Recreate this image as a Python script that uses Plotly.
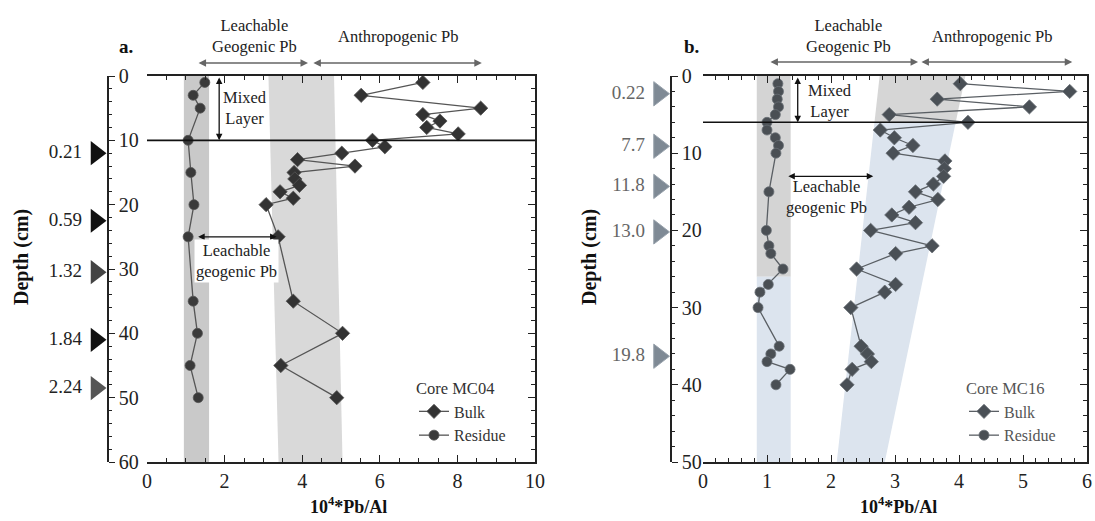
import plotly.graph_objects as go

W, H = 1095, 521
FONT = "Liberation Serif"

# ---------------- data: panel a (Core MC04) ----------------
a_res_depth = [1, 3, 5, 10, 15, 20, 25, 35, 40, 45, 50]
a_res_val = [1.49, 1.19, 1.37, 1.06, 1.13, 1.21, 1.06, 1.19, 1.30, 1.11, 1.32]
a_bulk_depth = [1, 3, 5, 6, 7, 8, 9, 10, 11, 12, 13, 14, 15, 16, 17, 18, 19, 20, 25, 35, 40, 45, 50]
a_bulk_val = [7.11, 5.52, 8.60, 7.11, 7.55, 7.21, 8.02, 5.81, 6.13, 5.02, 3.88, 5.36, 3.79,
              3.81, 3.93, 3.43, 3.77, 3.07, 3.38, 3.77, 5.04, 3.45, 4.89]
a_age_depth = [12, 22.5, 30.5, 41, 48.5]
a_age_label = ["0.21", "0.59", "1.32", "1.84", "2.24"]
a_age_color = ["#111111", "#111111", "#444444", "#111111", "#555555"]
a_band1 = [0.95, 1.60]                 # residue range
a_band2_top = [3.13, 4.82]             # bulk background at 0 cm
a_band2_bot = [3.39, 5.04]             # bulk background at 60 cm
a_mixed = 10

# ---------------- data: panel b (Core MC16) ----------------
b_res_depth = [1, 2, 3, 4, 5, 6, 7, 8, 9, 10, 15, 20, 22, 23, 25, 27, 28, 30, 35, 36, 37, 38, 40]
b_res_val = [1.17, 1.18, 1.16, 1.18, 1.13, 1.00, 1.00, 1.13, 1.18, 1.14, 1.03, 0.99, 1.03,
             1.06, 1.25, 1.02, 0.89, 0.86, 1.19, 1.06, 1.00, 1.36, 1.14]
b_bulk_depth = [1, 2, 3, 4, 5, 6, 7, 8, 9, 10, 11, 12, 13, 14, 15, 16, 17, 18, 19, 20,
                22, 23, 25, 27, 28, 30, 35, 36, 37, 38, 40]
b_bulk_val = [4.02, 5.73, 3.66, 5.10, 2.91, 4.14, 2.77, 2.99, 3.28, 2.97, 3.78, 3.77, 3.76,
              3.60, 3.32, 3.67, 3.22, 2.95, 3.32, 2.62, 3.58, 3.01, 2.40, 3.01, 2.84, 2.31,
              2.47, 2.57, 2.63, 2.33, 2.25]
b_age_depth = [2.3, 9.1, 14.3, 20.2, 36.3]
b_age_label = ["0.22", "7.7", "11.8", "13.0", "19.8"]
b_band1 = [0.84, 1.37]
b_band2_top = [2.76, 4.10]
b_band2_bot = [2.09, 2.84]
b_mixed = 6

# ---------------- layout geometry (pixels) ----------------
A_X0, A_X1 = 147, 535
B_X0, B_X1 = 703, 1087
Y_TOP, Y_BOT = 76, 462
A_LAX, B_LAX = 108, 671


def px(v):
    return v / W


def py(v):
    return 1 - v / H


ydom = [py(Y_BOT), py(Y_TOP)]

fig = go.Figure()

# panel a traces
fig.add_trace(go.Scatter(x=a_bulk_val, y=a_bulk_depth, mode="lines+markers", name="Bulk",
                         line=dict(color="#555555", width=1.3),
                         marker=dict(symbol="diamond", size=11, color="#333333",
                                     line=dict(color="#555555", width=0.8)),
                         xaxis="x", yaxis="y", legend="legend"))
fig.add_trace(go.Scatter(x=a_res_val, y=a_res_depth, mode="lines+markers", name="Residue",
                         line=dict(color="#555555", width=1.3),
                         marker=dict(symbol="circle", size=10, color="#3a3a3a",
                                     line=dict(color="#555555", width=0.8)),
                         xaxis="x", yaxis="y", legend="legend"))
# panel b traces
fig.add_trace(go.Scatter(x=b_bulk_val, y=b_bulk_depth, mode="lines+markers", name="Bulk",
                         line=dict(color="#5a5f64", width=1.3),
                         marker=dict(symbol="diamond", size=11, color="#4a5056",
                                     line=dict(color="#6a7076", width=0.8)),
                         xaxis="x2", yaxis="y2", legend="legend2"))
fig.add_trace(go.Scatter(x=b_res_val, y=b_res_depth, mode="lines+markers", name="Residue",
                         line=dict(color="#5a5f64", width=1.3),
                         marker=dict(symbol="circle", size=10, color="#4a4f54",
                                     line=dict(color="#6a7076", width=0.8)),
                         xaxis="x2", yaxis="y2", legend="legend2"))

# age markers (triangles) beside the detached depth axes
fig.add_trace(go.Scatter(x=[96] * len(a_age_depth), y=a_age_depth, mode="markers+text",
                         text=a_age_label, textposition="middle left",
                         textfont=dict(family=FONT, size=19, color="#222222"),
                         marker=dict(symbol="triangle-right", size=21, color=a_age_color),
                         xaxis="x5", yaxis="y3", showlegend=False, cliponaxis=False))
fig.add_trace(go.Scatter(x=[659] * len(b_age_depth), y=b_age_depth, mode="markers+text",
                         text=b_age_label, textposition="middle left",
                         textfont=dict(family=FONT, size=19, color="#666666"),
                         marker=dict(symbol="triangle-right", size=21, color="#7f8a95",
                                     line=dict(color="#98a2ac", width=1)),
                         xaxis="x6", yaxis="y4", showlegend=False, cliponaxis=False))

shapes = []
# panel a bands
shapes.append(dict(type="rect", xref="x", yref="y", x0=a_band1[0], x1=a_band1[1], y0=0, y1=60,
                   fillcolor="#c9c9c9", line=dict(width=0), layer="below"))
shapes.append(dict(type="path", xref="x", yref="y",
                   path=f"M{a_band2_top[0]},0 L{a_band2_top[1]},0 L{a_band2_bot[1]},60 L{a_band2_bot[0]},60 Z",
                   fillcolor="#d9d9d9", line=dict(width=0), layer="below"))
shapes.append(dict(type="line", xref="x", yref="y", x0=0, x1=10, y0=a_mixed, y1=a_mixed,
                   line=dict(color="#111111", width=1.6)))


# panel b bands
def edge(top, bot, d):
    return top + (bot - top) * d / 50.0


lb6, rb6 = edge(b_band2_top[0], b_band2_bot[0], b_mixed), edge(b_band2_top[1], b_band2_bot[1], b_mixed)
BLUE = "#dce4ee"
shapes.append(dict(type="rect", xref="x2", yref="y2", x0=b_band1[0], x1=b_band1[1], y0=0, y1=26,
                   fillcolor="#d4d4d4", line=dict(width=0), layer="below"))
shapes.append(dict(type="rect", xref="x2", yref="y2", x0=b_band1[0], x1=b_band1[1], y0=26, y1=50,
                   fillcolor=BLUE, line=dict(width=0), layer="below"))
shapes.append(dict(type="path", xref="x2", yref="y2",
                   path=f"M{b_band2_top[0]},0 L{b_band2_top[1]},0 L{rb6},{b_mixed} L{lb6},{b_mixed} Z",
                   fillcolor="#d6d6d6", line=dict(width=0), layer="below"))
shapes.append(dict(type="path", xref="x2", yref="y2",
                   path=f"M{lb6},{b_mixed} L{rb6},{b_mixed} L{b_band2_bot[1]},50 L{b_band2_bot[0]},50 Z",
                   fillcolor=BLUE, line=dict(width=0), layer="below"))
shapes.append(dict(type="line", xref="x2", yref="y2", x0=0, x1=6, y0=b_mixed, y1=b_mixed,
                   line=dict(color="#111111", width=1.6)))

tf = dict(family=FONT, size=16.5, color="#222222")
ann = []


def txt(x, y, s, xref, yref, font=tf, **kw):
    ann.append(dict(x=x, y=y, text=s, xref=xref, yref=yref, showarrow=False, font=font,
                    xanchor="center", yanchor="middle", **kw))


def harrow(x0, x1, y, xref, color="#666666"):
    ann.append(dict(x=x1, y=y, ax=x0, ay=0, xref=xref, yref="paper", axref=xref, ayref="pixel",
                    text="", showarrow=True, arrowhead=2, arrowside="end+start", arrowsize=1,
                    arrowwidth=1.5, arrowcolor=color, standoff=0, startstandoff=0))


def darrow(x0, y0, x1, y1, xref, yref, color="#111111"):
    ann.append(dict(x=x1, y=y1, ax=x0, ay=y0, xref=xref, yref=yref, axref=xref, ayref=yref,
                    text="", showarrow=True, arrowhead=2, arrowside="end+start", arrowsize=1,
                    arrowwidth=1.3, arrowcolor=color, standoff=0, startstandoff=0))


bold = dict(family=FONT, size=19, color="#111111")
dep = dict(family=FONT, size=20, color="#111111")
xt = dict(family=FONT, size=18, color="#111111")
XTITLE = "<b>10<sup>4</sup>*Pb/Al</b>"
# ---- panel a annotations
txt(px(126), py(46), "<b>a.</b>", "paper", "paper", bold)
txt(2.76, py(36), "Leachable<br>Geogenic Pb", "x", "paper")
txt(6.47, py(36), "Anthropogenic Pb", "x", "paper")
harrow(1.29, 4.15, py(63), "x")
harrow(4.25, 8.63, py(63), "x")
darrow(1.86, 0, 1.86, a_mixed, "x", "y")
txt(2.53, 5.05, "Mixed<br>Layer", "x", "y")
darrow(1.28, 25, 3.34, 25, "x", "y")
txt(2.3, 28.7, "Leachable<br>geogenic Pb", "x", "y", bgcolor="white")
txt(px(22), py(257), "<b>Depth (cm)</b>", "paper", "paper", dep, textangle=-90)
txt(5.2, py(505), XTITLE, "x", "paper", xt)
# ---- panel b annotations
txt(px(691), py(46), "<b>b.</b>", "paper", "paper", bold)
txt(2.27, py(36), "Leachable<br>Geogenic Pb", "x2", "paper")
txt(4.53, py(36), "Anthropogenic Pb", "x2", "paper")
harrow(1.03, 3.36, py(62), "x2")
harrow(3.39, 5.77, py(62), "x2")
darrow(1.48, 0, 1.48, b_mixed, "x2", "y2")
txt(1.98, 3.3, "Mixed<br>Layer", "x2", "y2")
darrow(1.31, 13, 2.66, 13, "x2", "y2")
txt(1.93, 15.7, "Leachable<br>geogenic Pb", "x2", "y2")
txt(px(590), py(257), "<b>Depth (cm)</b>", "paper", "paper", dep, textangle=-90)
txt(3.05, py(505), XTITLE, "x2", "paper", xt)

axcol = "#222222"
tickfont = dict(family=FONT, size=20, color="#222222")


def xax(dom, rng, dtick, mdtick, anchor):
    return dict(domain=dom, range=rng, anchor=anchor, showline=True, linecolor=axcol, linewidth=1.5,
                ticks="inside", ticklen=7, tickwidth=1.3, tickcolor=axcol, dtick=dtick, tick0=0,
                minor=dict(dtick=mdtick, ticks="inside", ticklen=4, tickwidth=1, tickcolor=axcol),
                mirror="ticks", showgrid=False, zeroline=False, tickfont=tickfont, automargin=False)


def yframe(rng, anchor):
    return dict(domain=ydom, range=rng, anchor=anchor, side="right", showline=True, linecolor=axcol,
                linewidth=1.5, ticks="inside", ticklen=7, tickwidth=1.3, tickcolor=axcol, dtick=10, tick0=0,
                minor=dict(dtick=2, ticks="inside", ticklen=4, tickwidth=1, tickcolor=axcol),
                showticklabels=False, showgrid=False, zeroline=False, automargin=False)


def yfree(rng, pos):
    # detached depth axis: line with ticks and labels to its right
    return dict(domain=ydom, range=rng, anchor="free", position=pos, side="right", showline=True,
                linecolor=axcol, linewidth=1.5, ticks="outside", ticklen=6, tickwidth=1.3, tickcolor=axcol,
                dtick=10, tick0=0, ticklabelposition="outside",
                minor=dict(dtick=2, ticks="outside", ticklen=3, tickwidth=1, tickcolor=axcol),
                showgrid=False, zeroline=False, tickfont=tickfont, automargin=False)


fig.update_layout(
    width=W, height=H, autosize=False, margin=dict(l=0, r=0, t=0, b=0, autoexpand=False),
    paper_bgcolor="white", plot_bgcolor="rgba(0,0,0,0)",
    xaxis=xax([px(A_X0), px(A_X1)], [0, 10], 2, 0.5, "y"),
    yaxis=yframe([60, 0], "x"),
    xaxis2=xax([px(B_X0), px(B_X1)], [0, 6], 1, 0.2, "y2"),
    yaxis2=yframe([50, 0], "x2"),
    yaxis3=yfree([60, 0], px(A_LAX)),
    yaxis4=yfree([50, 0], px(B_LAX)),
    xaxis5=dict(domain=[0, px(A_X0)], range=[0, A_X0], anchor="y3", visible=False, automargin=False),
    xaxis6=dict(domain=[px(547), px(B_X0)], range=[547, B_X0], anchor="y4", visible=False, automargin=False),
    shapes=shapes, annotations=ann,
    legend=dict(x=px(414), y=py(373), xanchor="left", yanchor="top", bgcolor="rgba(0,0,0,0)",
                title=dict(text="Core MC04", font=dict(family=FONT, size=16.5, color="#333333")),
                font=dict(family=FONT, size=16, color="#333333"), itemwidth=30, tracegroupgap=0),
    legend2=dict(x=px(964), y=py(373), xanchor="left", yanchor="top", bgcolor="rgba(0,0,0,0)",
                 title=dict(text="Core MC16", font=dict(family=FONT, size=16.5, color="#555555")),
                 font=dict(family=FONT, size=16, color="#555555"), itemwidth=30, tracegroupgap=0),
    showlegend=True,
)

fig.write_html("out.html", config={"displayModeBar": False},
               post_script="document.body.style.margin='0px';document.body.style.overflow='hidden';")
